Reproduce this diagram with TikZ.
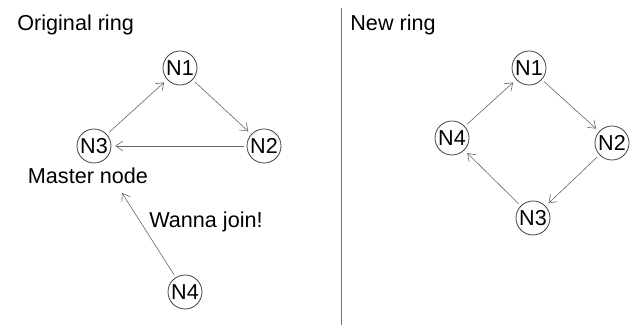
\documentclass[tikz,border=0pt]{standalone}
\usepackage{fontspec}
\setmainfont{Liberation Sans}
\usetikzlibrary{arrows.meta}

\begin{document}
\begin{tikzpicture}[x=0.5pt,y=-0.5pt,
        every node/.style = {font=\fontsize{10.8}{13}\selectfont},
        main/.style = {draw=black!75, circle, line width=0.4pt, minimum size=17pt, inner sep=0pt},
        link/.style = {->, draw=black!60, line width=0.3pt, shorten >=2pt, shorten <=1.5pt},
        >={Straight Barb[length=3.5pt,width=5pt]}]
        \useasboundingbox (0,0) rectangle (632,325);

        % original ring
        \node[anchor=west, inner sep=0pt] (t1) at (17,25) {Original ring};
        \node[main] (1) at (180,68) {N1};
        \node[main] (2) at (264,146) {N2};
        \node[main] (3) at (94,146) {N3};
        \node (master) at (88,176) {Master node};
        \node[main] (4) at (185,292) {N4};
        \node (wanna) at (206,222) {Wanna join!};
        \coordinate (join) at (122,193);
        \draw[link] (3) -- (1);
        \draw[link] (1) -- (2);
        \draw[link] (2) -- (3);
        \draw[link, shorten >=0pt] (4) -- (join);

        % divider
        \draw[black!55, line width=0.4pt] (341,8) -- (341,325);

        % new ring
        \node[anchor=west, inner sep=0pt] (t2) at (350,25) {New ring};
        \node[main] (5) at (529,68) {N1};
        \node[main] (6) at (612,143) {N2};
        \node[main] (7) at (533,218) {N3};
        \node[main] (8) at (452,138) {N4};
        \draw[link] (8) -- (5);
        \draw[link] (5) -- (6);
        \draw[link] (6) -- (7);
        \draw[link] (7) -- (8);
\end{tikzpicture}
\end{document}
